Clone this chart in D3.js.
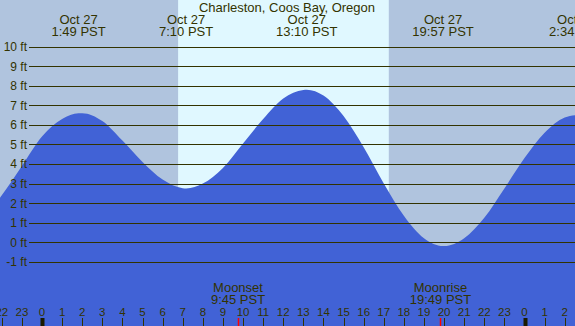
<!DOCTYPE html>
<html>
<head>
<meta charset="utf-8">
<script src="https://cdn.jsdelivr.net/npm/d3@7"></script>
<style>
  body { margin: 0; }
  svg { display: block; font-family: "Liberation Sans", Arial, sans-serif; }
</style>
</head>
<body>
<div id="chart"></div>
<script>
// tide height (ft), hour of Oct 27 (negative = evening before)
const tideHours = [-3, -2, -1, 0, 1, 1.82, 2, 3, 4, 5, 6, 7, 7.17, 8, 9, 10, 11, 12, 13, 13.17,
  14, 15, 16, 17, 18, 19, 19.95, 20, 21, 22, 23, 24, 25, 26, 26.57, 27];
const tideFeet = [1.1, 2.4, 3.9, 5.4, 6.3, 6.6, 6.6, 6.2, 5.2, 4.1, 3.2, 2.76, 2.75, 3.0, 3.8, 5.05, 6.3, 7.35, 7.79, 7.8,
  7.5, 6.45, 4.85, 3.0, 1.35, 0.2, -0.2, -0.2, 0.2, 1.25, 2.75, 4.3, 5.6, 6.38, 6.5, 6.48];

// high / low tide labels
const extremeHours = [1.82, 7.17, 13.17, 19.95, 26.57];
const extremeDates = ["Oct 27", "Oct 27", "Oct 27", "Oct 27", "Oct 27"];
const extremeTimes = ["1:49 PST", "7:10 PST", "13:10 PST", "19:57 PST", "2:34 PST"];

const sunrise = 6.77, sunset = 17.25;

const moonHours = [9.75, 19.82];
const moonNames = ["Moonset", "Moonrise"];
const moonTimes = ["9:45 PST", "19:49 PST"];

const feetTicks = d3.range(-1, 11);
const hourTicks = d3.range(-2, 27);

const width = 575, height = 326;
const ink = "#333300";

const svg = d3.select("#chart").append("svg")
  .attr("width", width)
  .attr("height", height);

const x = d3.scaleLinear().domain([0, 24]).range([42, 524.5]);
const y = d3.scaleLinear().domain([-1, 10]).range([261.7, 46.7]);

// night and day shading
svg.append("rect").attr("width", width).attr("height", height).attr("fill", "#b0c4de");
svg.append("rect")
  .attr("x", x(sunrise)).attr("y", 0)
  .attr("width", x(sunset) - x(sunrise)).attr("height", height)
  .attr("fill", "#e0f8ff");

// water
const tide = tideHours.map((h, i) => ({h: h, ft: tideFeet[i]}));
const area = d3.area()
  .x(d => x(d.h))
  .y0(height)
  .y1(d => y(d.ft))
  .curve(d3.curveMonotoneX);
svg.append("path").datum(tide).attr("d", area).attr("fill", "#4162d6");

// grid lines + feet labels
const grid = svg.append("g");
grid.selectAll("line").data(feetTicks).enter().append("line")
  .attr("x1", 29).attr("x2", width)
  .attr("y1", d => Math.round(y(d)) + 0.5).attr("y2", d => Math.round(y(d)) + 0.5)
  .attr("stroke", ink).attr("stroke-width", 1);
grid.selectAll("text").data(feetTicks).enter().append("text")
  .attr("x", 27).attr("y", d => y(d) + 4.5)
  .attr("text-anchor", "end").attr("font-size", 12).attr("fill", ink)
  .text(d => d + " ft");

// title
svg.append("text").attr("x", 287).attr("y", 12)
  .attr("text-anchor", "middle").attr("font-size", 13).attr("fill", ink)
  .text("Charleston, Coos Bay, Oregon");

// tide extreme labels
const ext = svg.append("g").selectAll("g").data(extremeHours).enter().append("g");
ext.append("text").attr("x", d => x(d)).attr("y", 24)
  .attr("text-anchor", "middle").attr("font-size", 13).attr("fill", ink)
  .text((d, i) => extremeDates[i]);
ext.append("text").attr("x", d => x(d)).attr("y", 36)
  .attr("text-anchor", "middle").attr("font-size", 13).attr("fill", ink)
  .text((d, i) => extremeTimes[i]);

// moon labels
const moon = svg.append("g").selectAll("g").data(moonHours).enter().append("g");
moon.append("text").attr("x", d => x(d)).attr("y", 292)
  .attr("text-anchor", "middle").attr("font-size", 13).attr("fill", ink)
  .text((d, i) => moonNames[i]);
moon.append("text").attr("x", d => x(d)).attr("y", 304)
  .attr("text-anchor", "middle").attr("font-size", 13).attr("fill", ink)
  .text((d, i) => moonTimes[i]);

// hour axis
const hrs = svg.append("g");
hrs.selectAll("line").data(hourTicks).enter().append("line")
  .attr("x1", d => Math.round(x(d)) + 0.5).attr("x2", d => Math.round(x(d)) + 0.5)
  .attr("y1", 318).attr("y2", height)
  .attr("stroke", d => (d % 24 === 0) ? "#1a1a00" : ink)
  .attr("stroke-width", d => (d % 24 === 0) ? 4 : 1);
hrs.selectAll("text").data(hourTicks).enter().append("text")
  .attr("x", d => x(d)).attr("y", 316)
  .attr("text-anchor", "middle").attr("font-size", 11.5).attr("fill", ink)
  .text(d => (d + 24) % 24);

// moon event ticks
svg.append("g").selectAll("line").data(moonHours).enter().append("line")
  .attr("x1", d => Math.round(x(d)) + 0.5).attr("x2", d => Math.round(x(d)) + 0.5)
  .attr("y1", 318).attr("y2", height)
  .attr("stroke", "red").attr("stroke-width", 1.5);
</script>
</body>
</html>
